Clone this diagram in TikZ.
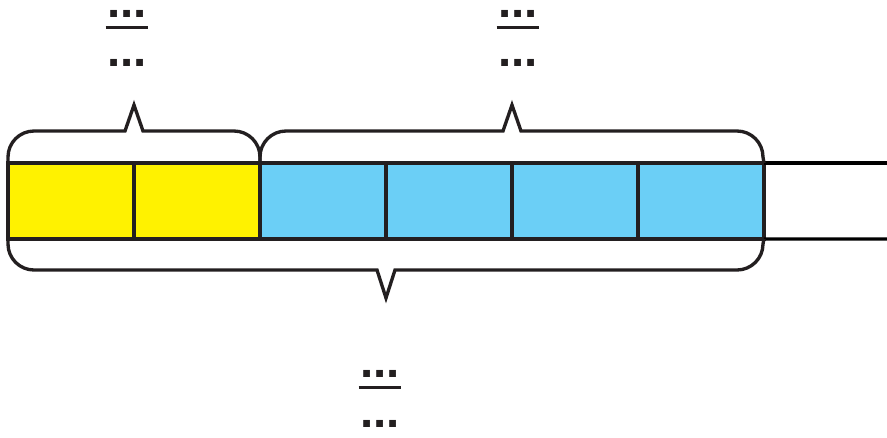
\documentclass[tikz,border=0pt]{standalone}
\usepackage{fontspec}
\setmainfont{Liberation Sans}
\usetikzlibrary{positioning}
\definecolor{tpline}{HTML}{231F20}
\definecolor{tpyellow}{HTML}{FFF200}
\definecolor{tpblue}{HTML}{6BCFF6}

\begin{document}
\begin{tikzpicture}[
  x=0.02cm, y=-0.02cm,
  line width=1.9pt,
  cell/.style={draw=tpline, minimum width=2.52cm, minimum height=1.52cm,
               inner sep=0pt, outer sep=0pt, anchor=north west},
  brace/.style={draw=tpline, line join=miter},
  num/.style={font=\fontsize{27}{30}\selectfont\bfseries, text=tpline,
              inner xsep=0pt, inner ysep=0.17cm},
  den/.style={font=\fontsize{27}{30}\selectfont\bfseries, text=tpline},
  bar/.style={draw=tpline, line width=1.5pt},
]
  \useasboundingbox (0,0) rectangle (887,437);

  % ---- tape -------------------------------------------------------------
  \foreach \i/\col in {1/tpyellow,2/tpyellow,3/tpblue,4/tpblue,5/tpblue,6/tpblue}
    \node[cell, fill=\col] (c\i) at ({8+126*(\i-1)},163) {};
  \coordinate (topend) at (887,163);
  \coordinate (botend) at (887,239);
  \draw (c6.north east) -- (topend);
  \draw (c6.south east) -- (botend);

  % ---- braces -------------------------------------------------------------
  \draw[brace] (c1.north west) -- (8,157) arc(180:270:26) -- (125,131)
    -- (134,105) -- (143,131) -- (234,131) arc(270:360:26) -- (c2.north east);
  \draw[brace] (c3.north west) -- (260,157) arc(180:270:26) -- (503,131)
    -- (512,105) -- (521,131) -- (737,131) arc(270:360:26) -- (c6.north east);
  \draw[brace] (c1.south west) -- (8,244) arc(180:90:26) -- (377,270)
    -- (386,298) -- (395,270) -- (737,270) arc(90:0:26) -- (c6.south east);

  % ---- fractions --------------------------------------------------------------
  \node[num] (n1) at (127,14) {...};
  \draw[bar] (n1.south west) -- (n1.south east);
  \node[den] (d1) at (127,63) {...};

  \node[num] (n2) at (518,14) {...};
  \draw[bar] (n2.south west) -- (n2.south east);
  \node[den] (d2) at (518,63) {...};

  \node[num] (n3) at (380,374) {...};
  \draw[bar] (n3.south west) -- (n3.south east);
  \node[den] (d3) at (380,424) {...};
\end{tikzpicture}
\end{document}
